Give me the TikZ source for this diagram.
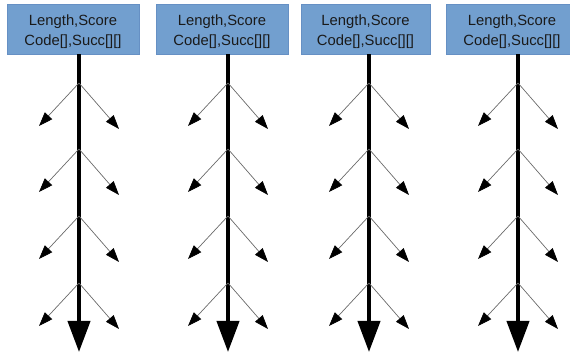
\documentclass[tikz,border=0pt]{standalone}
\usepackage{fontspec}
\setmainfont{Liberation Sans}
\usetikzlibrary{arrows.meta}
\definecolor{boxfill}{HTML}{729FCF}
\definecolor{boxline}{HTML}{6690C4}
\definecolor{txt}{HTML}{1A1A1A}
\definecolor{twig}{HTML}{6A6A6A}
\tikzset{
  recbox/.style={draw=boxline, line width=0.6pt, fill=boxfill,
    inner sep=0pt, minimum height=50pt},
  reclabel/.style={text=txt, inner sep=0pt, align=center,
    font=\fontsize{14.8}{19.5}\selectfont},
  spine/.style={line width=4pt, black,
    -{Triangle[length=31pt,width=22pt]}},
  twigline/.style={line width=0.7pt, draw=twig,
    -{Triangle[length=14pt,width=10pt,black]}},
}
\begin{document}
\begin{tikzpicture}[x=1pt,y=-1pt]
  \useasboundingbox (0,0) rectangle (570,352);
  \begin{scope}
    \clip (0,0) rectangle (570,352);
    % columns: box left, box right, spine x, index
    \foreach \l/\r/\s/\i in {7/139/79/1, 156/288/228/2, 301/430/369/3, 446/578/518/4}{
      \node[recbox, minimum width={(\r-\l)*1pt}] (box\i) at ({(\l+\r)/2},29) {};
      \node[reclabel] (lab\i) at ([yshift=-2.5pt]box\i.center)
        {Length,Score\\Code[],Succ[][]};
      \coordinate (end\i) at (\s,352);
      \draw[spine] (box\i.south -| end\i) -- (end\i);
      \foreach \y/\j in {83/1, 149/2, 216/3, 283/4}{
        \coordinate (fork\i\j) at (\s,\y);
        \coordinate (left\i\j) at (\s-40,\y+43);
        \coordinate (right\i\j) at (\s+40,\y+46);
        \draw[twigline] (fork\i\j) -- (left\i\j);
        \draw[twigline] (fork\i\j) -- (right\i\j);
      }
    }
  \end{scope}
\end{tikzpicture}
\end{document}
